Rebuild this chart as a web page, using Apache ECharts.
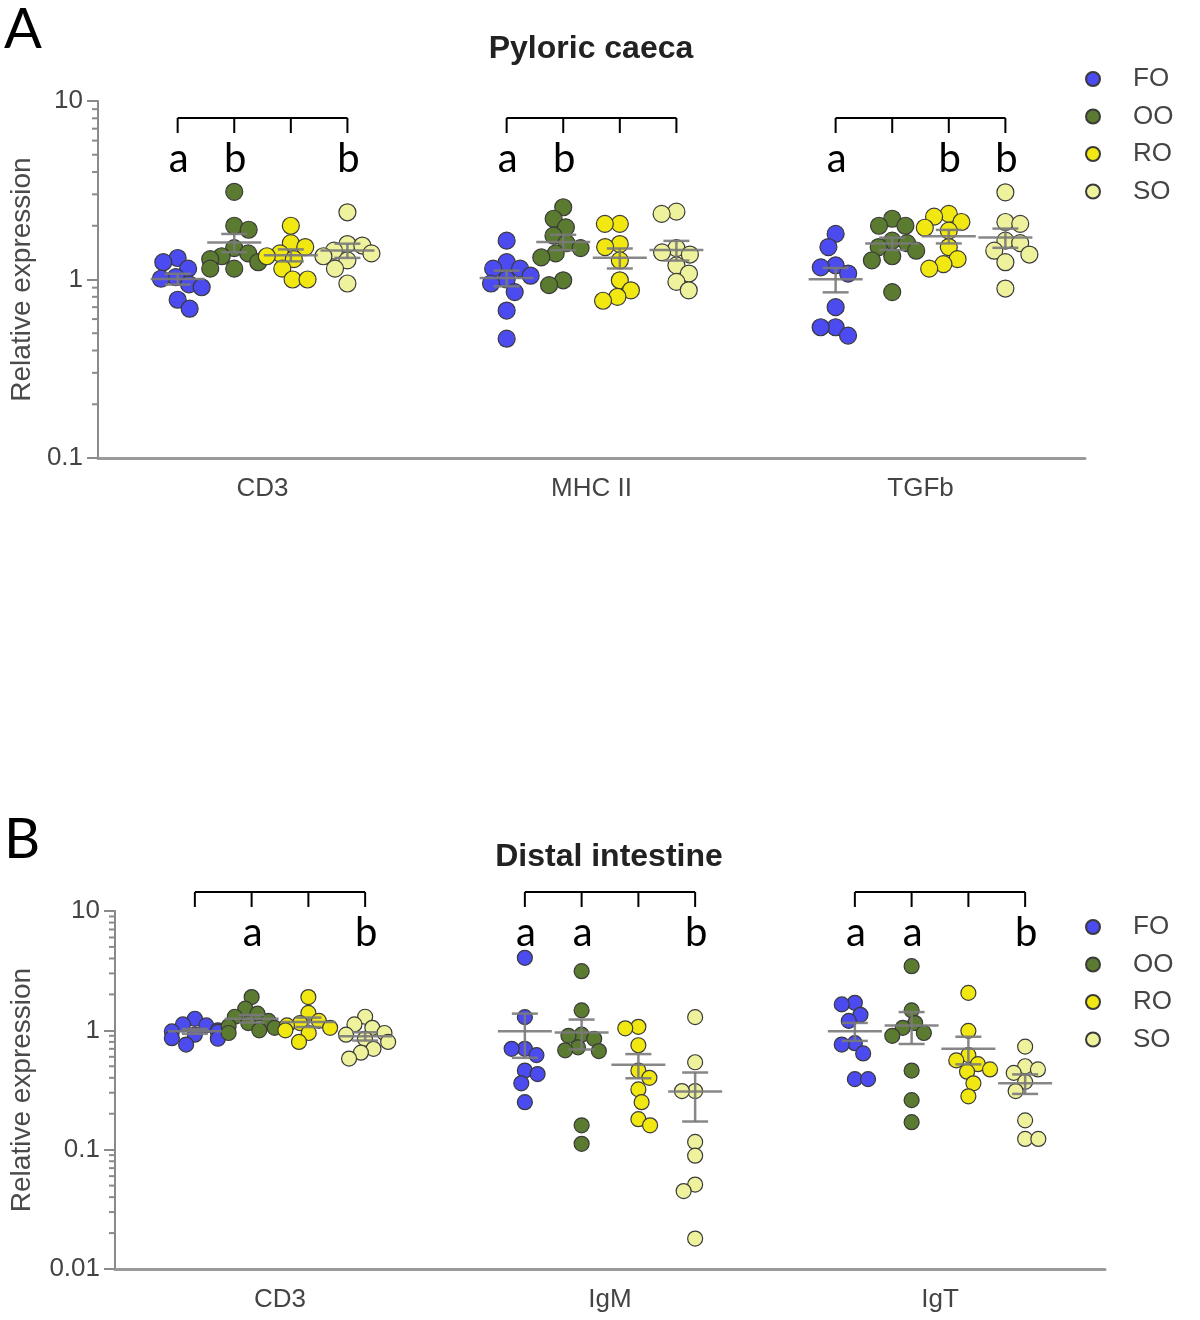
<!DOCTYPE html>
<html><head><meta charset="utf-8">
<script src="https://cdn.jsdelivr.net/npm/echarts@6/dist/echarts.min.js"></script>
<style>html,body{margin:0;padding:0;background:#fff}#c{width:1200px;height:1320px}</style>
</head><body><div id="c"></div><script>
// ---------- data ----------
const groups = ['FO', 'OO', 'RO', 'SO'];
const catsA = ['CD3', 'MHC II', 'TGFb'];
const catsB = ['CD3', 'IgM', 'IgT'];

// Panel A: Pyloric caeca  (per category: CD3, MHC II, TGFb)
const pcFO = [[1.32, 1.25, 1.15, 1.03, 1.01, 0.94, 0.905, 0.77, 0.686],
              [1.65, 1.25, 1.15, 1.15, 1.05, 1.0, 0.95, 0.85, 0.67, 0.466],
              [1.8, 1.52, 1.2, 1.17, 1.08, 0.7, 0.54, 0.54, 0.485]];
const pcOO = [[3.1, 2.0, 1.9, 1.5, 1.4, 1.35, 1.3, 1.25, 1.15, 1.15],
              [2.54, 2.19, 1.96, 1.76, 1.6, 1.5, 1.4, 1.33, 0.99, 0.93],
              [2.19, 2.0, 2.0, 1.65, 1.6, 1.52, 1.45, 1.35, 1.28, 0.85]];
const pcRO = [[2.0, 1.6, 1.52, 1.4, 1.35, 1.3, 1.15, 1.0, 1.0],
              [2.05, 2.05, 1.58, 1.52, 1.28, 0.99, 0.87, 0.8, 0.76],
              [2.33, 2.25, 2.1, 1.95, 1.88, 1.52, 1.3, 1.22, 1.15]];
const pcSO = [[2.38, 1.58, 1.55, 1.45, 1.4, 1.35, 1.28, 1.15, 0.95],
              [2.4, 2.33, 1.5, 1.42, 1.38, 1.2, 1.08, 0.97, 0.87],
              [3.08, 2.1, 2.05, 1.65, 1.6, 1.45, 1.38, 1.25, 0.89]];

// Panel B: Distal intestine (per category: CD3, IgM, IgT)
const diFO = [[1.25, 1.12, 1.1, 1.0, 0.98, 0.97, 0.92, 0.86, 0.85, 0.76],
              [4.05, 1.29, 0.7, 0.7, 0.62, 0.46, 0.43, 0.36, 0.25],
              [1.7, 1.65, 1.35, 1.2, 0.78, 0.76, 0.64, 0.39, 0.39]];
const diOO = [[1.9, 1.52, 1.38, 1.3, 1.2, 1.15, 1.08, 1.05, 1.0, 0.95],
              [3.13, 1.47, 0.92, 0.9, 0.85, 0.72, 0.68, 0.67, 0.16, 0.112],
              [3.45, 1.47, 1.15, 1.05, 0.95, 0.9, 0.46, 0.26, 0.17]];
const diRO = [[1.9, 1.4, 1.2, 1.15, 1.1, 1.05, 1.0, 0.95, 0.8],
              [1.07, 1.04, 0.75, 0.46, 0.4, 0.32, 0.25, 0.18, 0.16],
              [2.06, 0.99, 0.62, 0.56, 0.52, 0.47, 0.45, 0.36, 0.28]];
const diSO = [[1.3, 1.12, 1.05, 0.95, 0.92, 0.85, 0.8, 0.7, 0.65, 0.58],
              [1.29, 0.54, 0.31, 0.31, 0.116, 0.089, 0.051, 0.045, 0.018],
              [0.73, 0.5, 0.47, 0.44, 0.37, 0.31, 0.176, 0.123, 0.123]];

// significance letters (per category, per group FO/OO/RO/SO)
const lettersA = [['a', 'b', '', 'b'], ['a', 'b', '', ''], ['a', '', 'b', 'b']];
const lettersB = [['', 'a', '', 'b'], ['a', 'a', '', 'b'], ['a', 'a', '', 'b']];

// log-axis minor tick values
const minorA = [0.2, 0.3, 0.4, 0.5, 0.6, 0.7, 0.8, 0.9, 2, 3, 4, 5, 6, 7, 8, 9];
const minorB = [0.02, 0.03, 0.04, 0.05, 0.06, 0.07, 0.08, 0.09,
                0.2, 0.3, 0.4, 0.5, 0.6, 0.7, 0.8, 0.9, 2, 3, 4, 5, 6, 7, 8, 9];

// ---------- styling ----------
const colors = ['#4b4bef', '#5b7b30', '#f2e811', '#eef29c'];
const groupOff = [-0.258, -0.086, 0.086, 0.258];
const FONT = '"Liberation Sans", Arial, sans-serif';

const panels = [
  { cats: catsA, data: [pcFO, pcOO, pcRO, pcSO], letters: lettersA, minor: minorA,
    yMin: 0.1, yMax: 10, grid: { left: 97, right: 115, top: 101, bottom: 862 },
    dot: 17, spread: 24, bracketDy: 17, nameGap: 62, legendTop: 61 },
  { cats: catsB, data: [diFO, diOO, diRO, diSO], letters: lettersB, minor: minorB,
    yMin: 0.01, yMax: 10, grid: { left: 114, right: 95, top: 911, bottom: 51 },
    dot: 15, spread: 23, bracketDy: -19, nameGap: 79, legendTop: 909 }
];

function stats(v) {
  const n = v.length, m = v.reduce((a, b) => a + b, 0) / n;
  const sd = Math.sqrt(v.reduce((a, b) => a + (b - m) * (b - m), 0) / (n - 1));
  return { mean: m, sem: sd / Math.sqrt(n) };
}

function swarm(ys, d, maxHalf) {
  const idx = ys.map((y, i) => i).sort((a, b) => ys[a] - ys[b]);
  const placed = [], out = new Array(ys.length);
  let side = 1;
  idx.forEach(i => {
    const y = ys[i];
    const cands = [0];
    placed.forEach(p => {
      const dy = Math.abs(p.y - y);
      if (dy < d) { const dx = Math.sqrt(d * d - dy * dy); cands.push(p.x + dx, p.x - dx); }
    });
    cands.sort((a, b) => (Math.abs(a) - Math.abs(b)) || side * (b - a));
    let chosen = cands[cands.length - 1];
    for (const c of cands) {
      if (placed.every(p => (p.x - c) * (p.x - c) + (p.y - y) * (p.y - y) >= d * d - 0.01)) { chosen = c; break; }
    }
    chosen = Math.max(-maxHalf, Math.min(maxHalf, chosen));
    placed.push({ x: chosen, y }); out[i] = chosen; side = -side;
  });
  return out;
}

const scatterIdx = [];
function build(jit) {
  const grid = [], xAxis = [], yAxis = [], series = [], legend = [];
  panels.forEach((P, p) => {
    grid.push(Object.assign({ containLabel: false }, P.grid));
    xAxis.push({ type: 'category', gridIndex: p, data: P.cats, boundaryGap: true,
      axisLine: { onZero: false, lineStyle: { color: '#9a9a9a', width: 3 } },
      axisTick: { alignWithLabel: true, length: 6, lineStyle: { color: '#888', width: 1.5 } },
      axisLabel: { fontSize: 26, color: '#444', margin: 18, fontFamily: FONT },
      splitLine: { show: false } });
    xAxis.push({ type: 'value', gridIndex: p, min: -0.5, max: 2.5, show: false });
    yAxis.push({ type: 'log', gridIndex: p, logBase: 10, min: P.yMin, max: P.yMax,
      name: 'Relative expression', nameLocation: 'middle', nameRotate: 90, nameGap: P.nameGap,
      nameTextStyle: { fontSize: 28, color: '#4a4a4a', fontFamily: FONT },
      axisLine: { show: true, onZero: false, lineStyle: { color: '#8a8a8a', width: 2 } },
      axisTick: { show: true, length: 11, lineStyle: { color: '#8a8a8a', width: 2 } },
      axisLabel: { fontSize: 26, color: '#444', margin: 15, fontFamily: FONT },
      splitLine: { show: false } });
    scatterIdx[p] = series.length;
    groups.forEach((g, gi) => {
      const pts = [];
      P.data[gi].forEach((vals, ci) => vals.forEach((v, k) =>
        pts.push([ci + groupOff[gi] + (jit ? jit[p][gi][ci][k] : 0), v])));
      series.push({ type: 'scatter', name: g, xAxisIndex: 2 * p + 1, yAxisIndex: p, data: pts,
        symbol: 'circle', symbolSize: P.dot, z: 3,
        itemStyle: { color: colors[gi], borderColor: '#3a3a3a', borderWidth: 1.2, opacity: 1 } });
    });
    // mean +/- SEM
    const eb = [];
    groups.forEach((g, gi) => P.data[gi].forEach((vals, ci) => {
      const s = stats(vals);
      eb.push([ci + groupOff[gi], s.mean, s.mean - s.sem, s.mean + s.sem]);
    }));
    series.push({ type: 'custom', xAxisIndex: 2 * p + 1, yAxisIndex: p, data: eb, z: 5, silent: true,
      renderItem: (params, api) => {
        const x = api.value(0);
        const m = api.coord([x, api.value(1)]), lo = api.coord([x, api.value(2)]), hi = api.coord([x, api.value(3)]);
        const st = { stroke: '#7a7a7a', lineWidth: 2.5, opacity: 0.9 };
        return { type: 'group', children: [
          { type: 'line', shape: { x1: m[0] - 27, y1: m[1], x2: m[0] + 27, y2: m[1] }, style: st },
          { type: 'line', shape: { x1: m[0], y1: lo[1], x2: m[0], y2: hi[1] }, style: st },
          { type: 'line', shape: { x1: m[0] - 13, y1: lo[1], x2: m[0] + 13, y2: lo[1] }, style: st },
          { type: 'line', shape: { x1: m[0] - 13, y1: hi[1], x2: m[0] + 13, y2: hi[1] }, style: st }
        ] };
      } });
    // brackets + letters
    series.push({ type: 'custom', xAxisIndex: 2 * p + 1, yAxisIndex: p, silent: true, z: 6,
      data: P.cats.map((c, i) => [i, P.yMax]),
      renderItem: (params, api) => {
        const ci = api.value(0), yv = api.value(1);
        const y = api.coord([ci, yv])[1] + P.bracketDy;
        const xs = groupOff.map(o => api.coord([ci + o, yv])[0]);
        const st = { stroke: '#000', lineWidth: 2 };
        const ch = [{ type: 'line', shape: { x1: xs[0], y1: y, x2: xs[3], y2: y }, style: st }];
        xs.forEach((x, gi) => {
          ch.push({ type: 'line', shape: { x1: x, y1: y, x2: x, y2: y + 15 }, style: st });
          const L = P.letters[ci][gi];
          if (L) ch.push({ type: 'text', style: { text: L, x: x + 1, y: y + 41, align: 'center',
            verticalAlign: 'middle', font: '40px Lato, "Open Sans", sans-serif', fill: '#000' } });
        });
        return { type: 'group', children: ch };
      } });
    // minor ticks on the log axis
    series.push({ type: 'custom', xAxisIndex: 2 * p + 1, yAxisIndex: p, silent: true, z: 2,
      data: P.minor.map(v => [-0.5, v]),
      renderItem: (params, api) => {
        const c = api.coord([api.value(0), api.value(1)]);
        return { type: 'line', shape: { x1: c[0] - 6, y1: c[1], x2: c[0], y2: c[1] },
          style: { stroke: '#8a8a8a', lineWidth: 2 } };
      } });
    legend.push({ data: groups, orient: 'vertical', left: 1080, top: P.legendTop,
      itemWidth: 70, itemHeight: 14, itemGap: 11.5, icon: 'circle', selectedMode: false,
      textStyle: { fontSize: 26, color: '#454545', fontFamily: FONT, lineHeight: 26 } });
  });
  return {
    animation: false, backgroundColor: '#fff',
    grid, xAxis, yAxis, series, legend,
    graphic: [
      { type: 'text', x: 591, y: 49, style: { text: 'Pyloric caeca', font: 'bold 32px ' + FONT, fill: '#222', align: 'center', verticalAlign: 'middle' } },
      { type: 'text', x: 609, y: 857, style: { text: 'Distal intestine', font: 'bold 32px ' + FONT, fill: '#222', align: 'center', verticalAlign: 'middle' } },
      { type: 'text', x: 4, y: 30, style: { text: 'A', font: '56px Lato, "Open Sans", sans-serif', fill: '#000', align: 'left', verticalAlign: 'middle' } },
      { type: 'text', x: 4, y: 840, style: { text: 'B', font: '56px Lato, "Open Sans", sans-serif', fill: '#000', align: 'left', verticalAlign: 'middle' } }
    ]
  };
}

const chart = echarts.init(document.getElementById('c'), null, { renderer: 'canvas' });
chart.setOption(build(null));
const jit = panels.map((P, p) => {
  const finder = { seriesIndex: scatterIdx[p] };
  const band = chart.convertToPixel(finder, [1, 1])[0] - chart.convertToPixel(finder, [0, 1])[0];
  return groups.map((g, gi) => P.data[gi].map(vals => {
    const ys = vals.map(v => chart.convertToPixel(finder, [0, v])[1]);
    return swarm(ys, P.dot * 0.88, P.spread).map(dx => dx / band);
  }));
});
chart.setOption(build(jit), true);
</script></body></html>
